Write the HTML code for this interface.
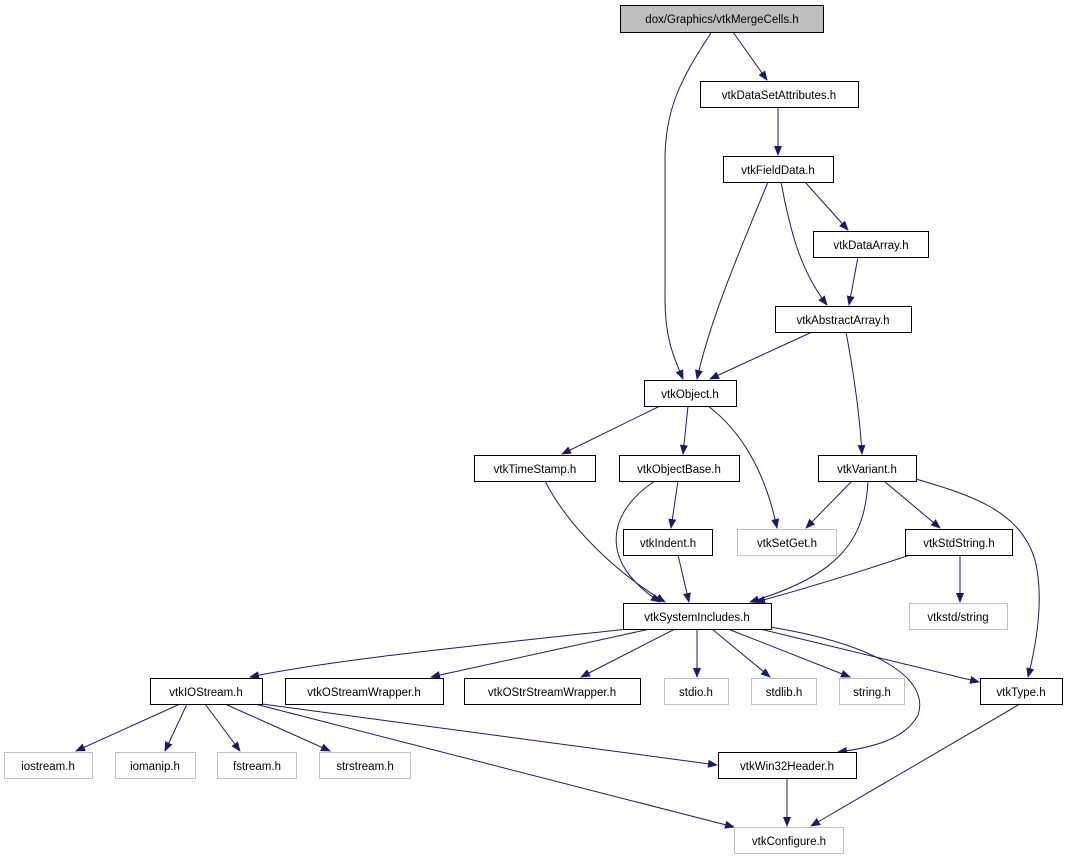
<!DOCTYPE html>
<html><head><meta charset="utf-8"><style>
html,body{margin:0;padding:0;background:#fff;}
svg{display:block;}
text{font-family:"Liberation Sans",sans-serif;font-size:11.5px;fill:#000;}
</style></head><body>
<svg width="1068" height="859" viewBox="0 0 1068 859" xmlns="http://www.w3.org/2000/svg">
<defs><marker id="a" markerWidth="10" markerHeight="8" refX="9" refY="4" orient="auto" markerUnits="userSpaceOnUse"><path d="M0,0 L10,4 L0,8 z" fill="#191970"/></marker></defs>
<g fill="none" stroke="#191970" stroke-width="1" marker-end="url(#a)">
<path d="M733,32 L767,80"/>
<path d="M711,33 C680,80 665,110 665,160 L665,300 C665,340 675,360 683,379"/>
<path d="M778,107 L778,155"/>
<path d="M805,182 L848,230"/>
<path d="M781,182 C790,230 800,270 827,305"/>
<path d="M768,182 C740,250 710,320 697,379"/>
<path d="M858,257 L849,305"/>
<path d="M812,332 L710,379"/>
<path d="M846,332 C855,380 860,420 862,454"/>
<path d="M660,406 L562,454"/>
<path d="M688,406 L683,454"/>
<path d="M708,406 C740,430 765,470 777,528"/>
<path d="M545,481 C570,530 620,575 665,602"/>
<path d="M678,481 L671,528"/>
<path d="M655,481 C610,510 595,560 660,602"/>
<path d="M678,555 L689,602"/>
<path d="M852,481 L806,528"/>
<path d="M868,481 C865,540 840,575 750,602"/>
<path d="M884,481 L940,528"/>
<path d="M916,479 C970,495 1020,510 1035,560 C1045,600 1035,650 1028,677"/>
<path d="M910,555 C850,575 800,590 756,602"/>
<path d="M960,555 L960,602"/>
<path d="M628,629 C480,645 330,660 250,677"/>
<path d="M650,629 L431,677"/>
<path d="M675,629 L581,677"/>
<path d="M697,629 L697,677"/>
<path d="M712,629 L770,677"/>
<path d="M728,629 L850,677"/>
<path d="M760,629 L979,682"/>
<path d="M770,627 C880,645 930,680 918,715 C905,740 870,748 838,752"/>
<path d="M180,704 L76,751"/>
<path d="M187,704 L165,751"/>
<path d="M205,704 L240,751"/>
<path d="M225,704 L330,751"/>
<path d="M262,704 L717,765"/>
<path d="M255,704 L734,827"/>
<path d="M787,778 L787,826"/>
<path d="M1020,704 L811,826"/>
</g>
<g stroke-width="1">
<rect x="620.5" y="5.5" width="203" height="27" fill="#bfbfbf" stroke="#000"/>
<rect x="700.5" y="81.5" width="158" height="26" fill="#fff" stroke="#000"/>
<rect x="723.5" y="156.5" width="110" height="26" fill="#fff" stroke="#000"/>
<rect x="813.5" y="231.5" width="115" height="26" fill="#fff" stroke="#000"/>
<rect x="775.5" y="306.5" width="136" height="26" fill="#fff" stroke="#000"/>
<rect x="644.5" y="380.5" width="92" height="26" fill="#fff" stroke="#000"/>
<rect x="474.5" y="455.5" width="121" height="26" fill="#fff" stroke="#000"/>
<rect x="619.5" y="455.5" width="120" height="26" fill="#fff" stroke="#000"/>
<rect x="818.5" y="455.5" width="98" height="26" fill="#fff" stroke="#000"/>
<rect x="737.5" y="529.5" width="99" height="26" fill="#fff" stroke="#bfbfbf"/>
<rect x="623.5" y="529.5" width="89" height="26" fill="#fff" stroke="#000"/>
<rect x="905.5" y="529.5" width="107" height="26" fill="#fff" stroke="#000"/>
<rect x="623.5" y="603.5" width="148" height="26" fill="#fff" stroke="#000"/>
<rect x="909.5" y="603.5" width="98" height="26" fill="#fff" stroke="#bfbfbf"/>
<rect x="150.5" y="678.5" width="112" height="26" fill="#fff" stroke="#000"/>
<rect x="285.5" y="678.5" width="158" height="26" fill="#fff" stroke="#000"/>
<rect x="464.5" y="678.5" width="176" height="26" fill="#fff" stroke="#000"/>
<rect x="664.5" y="678.5" width="64" height="26" fill="#fff" stroke="#bfbfbf"/>
<rect x="751.5" y="678.5" width="65" height="26" fill="#fff" stroke="#bfbfbf"/>
<rect x="839.5" y="678.5" width="65" height="26" fill="#fff" stroke="#bfbfbf"/>
<rect x="980.5" y="678.5" width="82" height="26" fill="#fff" stroke="#000"/>
<rect x="4.5" y="752.5" width="88" height="26" fill="#fff" stroke="#bfbfbf"/>
<rect x="115.5" y="752.5" width="80" height="26" fill="#fff" stroke="#bfbfbf"/>
<rect x="217.5" y="752.5" width="79" height="26" fill="#fff" stroke="#bfbfbf"/>
<rect x="319.5" y="752.5" width="91" height="26" fill="#fff" stroke="#bfbfbf"/>
<rect x="718.5" y="752.5" width="138" height="26" fill="#fff" stroke="#000"/>
<rect x="734.5" y="827.5" width="109" height="26" fill="#fff" stroke="#bfbfbf"/>
</g>
<g text-anchor="middle">
<text x="722" y="23">dox/Graphics/vtkMergeCells.h</text>
<text x="779" y="99">vtkDataSetAttributes.h</text>
<text x="778" y="174">vtkFieldData.h</text>
<text x="871" y="249">vtkDataArray.h</text>
<text x="843" y="324">vtkAbstractArray.h</text>
<text x="690" y="398">vtkObject.h</text>
<text x="535" y="473">vtkTimeStamp.h</text>
<text x="679" y="473">vtkObjectBase.h</text>
<text x="867" y="473">vtkVariant.h</text>
<text x="787" y="547">vtkSetGet.h</text>
<text x="668" y="547">vtkIndent.h</text>
<text x="959" y="547">vtkStdString.h</text>
<text x="697" y="621">vtkSystemIncludes.h</text>
<text x="958" y="621">vtkstd/string</text>
<text x="206" y="696">vtkIOStream.h</text>
<text x="364" y="696">vtkOStreamWrapper.h</text>
<text x="552" y="696">vtkOStrStreamWrapper.h</text>
<text x="696" y="696">stdio.h</text>
<text x="784" y="696">stdlib.h</text>
<text x="872" y="696">string.h</text>
<text x="1021" y="696">vtkType.h</text>
<text x="48" y="770">iostream.h</text>
<text x="155" y="770">iomanip.h</text>
<text x="257" y="770">fstream.h</text>
<text x="365" y="770">strstream.h</text>
<text x="787" y="770">vtkWin32Header.h</text>
<text x="789" y="845">vtkConfigure.h</text>
</g>
</svg>
</body></html>
